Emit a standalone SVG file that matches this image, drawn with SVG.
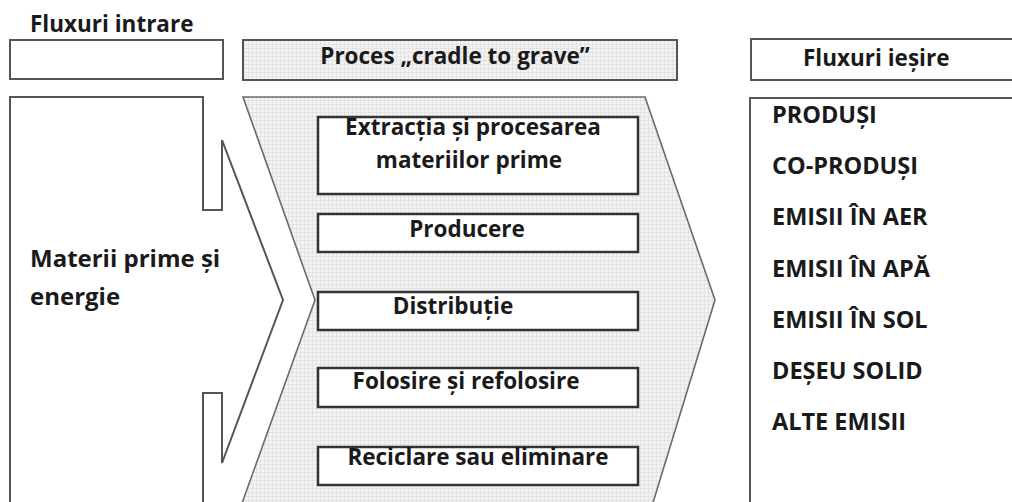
<svg xmlns="http://www.w3.org/2000/svg" width="1012" height="502" viewBox="0 0 1012 502">
<defs>
<pattern id="grid" width="4" height="4" patternUnits="userSpaceOnUse">
<rect width="4" height="4" fill="#f3f3f3"/>
<path d="M0,0.5H4M0.5,0V4" stroke="#e0e0e0" stroke-width="0.8" fill="none"/>
</pattern>
</defs>
<style>
text{font-family:"Open Sans","Noto Sans","Liberation Sans",sans-serif;font-weight:700;fill:#1a1a1a;}
.t{font-size:22.5px;}
.l{font-size:24px;}
.r{font-size:23.5px;}
.c{text-anchor:middle;}
.frame{stroke:#555;stroke-width:2;fill:#fff;}
.band{stroke:#6a6a6a;stroke-width:1.6;fill:url(#grid);}
.step{stroke:#333;stroke-width:2.5;fill:#fff;}
</style>
<rect width="1012" height="502" fill="#fff"/>
<g id="header-input">
<text class="t" x="30" y="32">Fluxuri intrare</text>
<rect class="frame" x="10" y="40" width="213" height="39"/>
</g>
<g id="header-process">
<rect class="frame" x="243" y="40" width="434" height="40" style="fill:url(#grid)"/>
<text class="t c" x="455" y="64">Proces „cradle to grave”</text>
</g>
<g id="header-output">
<rect class="frame" x="751" y="39" width="270" height="41"/>
<text class="t" x="803" y="66">Fluxuri ieșire</text>
</g>
<g id="inputs">
<path class="frame" d="M10,506V97H203V210H222V140L283,300L222,463V393H203V506"/>
<text class="l" x="30" y="267">Materii prime și</text>
<text class="l" x="30" y="305">energie</text>
</g>
<g id="process">
<path class="band" d="M243,97H645L715,300L652,506H241L315,300Z"/>
</g>
<g id="step1">
<rect class="step" x="318" y="117" width="320" height="77"/>
<text class="t c" x="473" y="135">Extracția și procesarea</text>
<text class="t c" x="469" y="168">materiilor prime</text>
</g>
<g id="step2">
<rect class="step" x="318" y="214" width="320" height="38"/>
<text class="t c" x="467" y="237">Producere</text>
</g>
<g id="step3">
<rect class="step" x="318" y="292" width="320" height="38"/>
<text class="t c" x="453" y="314">Distribuție</text>
</g>
<g id="step4">
<rect class="step" x="318" y="368" width="320" height="39"/>
<text class="t c" x="466" y="389">Folosire și refolosire</text>
</g>
<g id="step5">
<rect class="step" x="318" y="447" width="320" height="38"/>
<text class="t c" x="478" y="465">Reciclare sau eliminare</text>
</g>
<g id="outputs">
<path class="frame" d="M750,506V98H1016"/>
<text class="r" x="772" y="123">PRODUȘI</text>
<text class="r" x="772" y="174">CO-PRODUȘI</text>
<text class="r" x="772" y="225">EMISII ÎN AER</text>
<text class="r" x="772" y="277">EMISII ÎN APĂ</text>
<text class="r" x="772" y="328">EMISII ÎN SOL</text>
<text class="r" x="772" y="379">DEȘEU SOLID</text>
<text class="r" x="772" y="430">ALTE EMISII</text>
</g>
<g id="connectors"></g>
</svg>
